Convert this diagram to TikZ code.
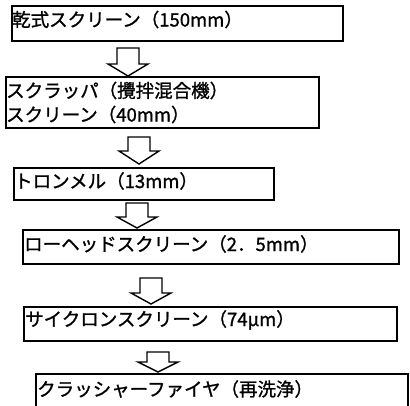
\documentclass[tikz,border=0pt]{standalone}
\usepackage{fontspec}
\setmainfont[FakeBold=1.2]{Noto Sans CJK JP}
\newcommand\blockarrow[4]{%
  \draw[arr] ({#1-11},#2) -- ({#1+11},#2) -- ({#1+11},#3) -- ({#1+20},#3)
    -- (#1,#4) -- ({#1-20},#3) -- ({#1-11},#3) -- cycle;}
\begin{document}
\begin{tikzpicture}[x=1pt,y=-1pt,
  box/.style={draw, line width=1.5pt, anchor=north west, inner sep=0pt},
  txt/.style={anchor=base west, inner sep=0pt, font=\fontsize{18.5}{24}\selectfont},
  arr/.style={draw, line width=1.4pt, line join=miter}]
\useasboundingbox (0,0) rectangle (410,405);
\clip (0,0) rectangle (410,405);
\node[box, minimum width=331pt, minimum height=35pt] (b1) at (11,5) {};
\node[box, minimum width=313pt, minimum height=51pt] (b2) at (5,76) {};
\node[box, minimum width=260pt, minimum height=32pt] (b3) at (13,167) {};
\node[box, minimum width=376pt, minimum height=34pt] (b4) at (22,229) {};
\node[box, minimum width=373pt, minimum height=34pt] (b5) at (23,306) {};
\node[box, minimum width=372pt, minimum height=50pt] (b6) at (35,373) {};
\node[txt] (t1) at (12,26.5) {乾式スクリーン（150mm）};
\node[txt] (t2a) at (6,97.5) {スクラッパ（攪拌混合機）};
\node[txt] (t2b) at (6,121.5) {スクリーン（40mm）};
\node[txt] (t3) at (14,188) {トロンメル（13mm）};
\node[txt] (t4) at (24,251) {ローヘッドスクリーン（2．5mm）};
\node[txt] (t5) at (25,326) {サイクロンスクリーン（74μm）};
\node[txt] (t6) at (37,396) {クラッシャーファイヤ（再洗浄）};
\blockarrow{128}{48}{64}{76}
\blockarrow{139}{137}{151}{164}
\blockarrow{137}{203}{217}{228}
\blockarrow{151}{278}{293}{304}
\blockarrow{158}{352}{362}{372}
\end{tikzpicture}
\end{document}
